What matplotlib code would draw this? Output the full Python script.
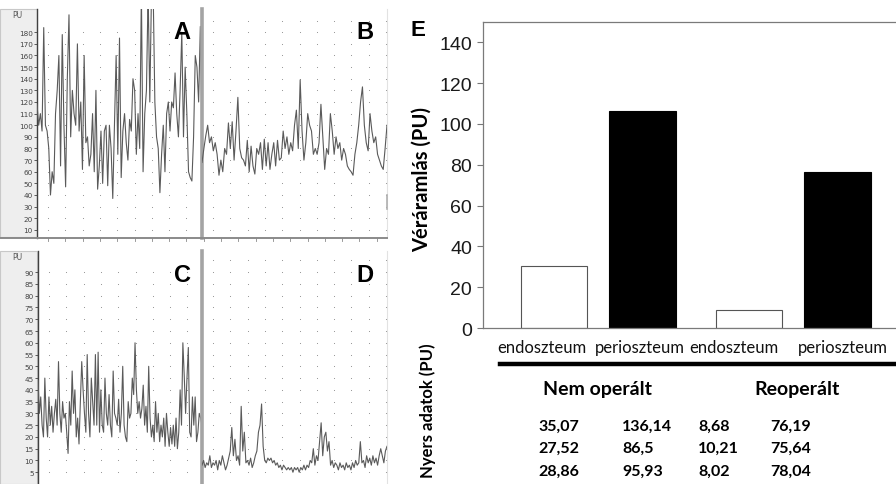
import numpy as np
import matplotlib
matplotlib.use("Agg")
import matplotlib.pyplot as plt
from matplotlib.patches import Rectangle
from matplotlib.lines import Line2D
import matplotlib.transforms as mtransforms

W, H = 896, 485

# laser Doppler traces (PU)
trace_a = [118, 100, 110, 95, 184, 100, 95, 80, 40, 60, 50, 110, 130, 160, 65, 178, 100, 47,
           140, 195, 90, 130, 110, 100, 170, 95, 120, 62, 160, 85, 90, 65, 75, 110, 60, 130,
           45, 65, 95, 50, 95, 100, 48, 100, 80, 37, 100, 160, 75, 175, 55, 95, 110, 85, 70,
           105, 95, 140, 130, 75, 110, 80, 215, 60, 110, 130, 215, 120, 215, 215, 120, 90, 80,
           42, 75, 100, 60, 110, 120, 95, 120, 115, 145, 110, 90, 130, 180, 90, 150, 110, 60,
           55, 52, 90, 160, 150, 120, 185, 100]
trace_b = [68, 80, 91, 100, 85, 90, 78, 85, 75, 57, 70, 60, 80, 75, 102, 80, 103, 70, 95, 124,
           80, 72, 70, 65, 87, 60, 82, 65, 58, 80, 75, 85, 62, 88, 65, 85, 62, 75, 85, 65, 87,
           70, 72, 95, 80, 90, 75, 85, 78, 100, 113, 80, 139, 95, 70, 85, 110, 100, 95, 75, 80,
           75, 85, 118, 90, 62, 80, 75, 110, 95, 75, 90, 80, 85, 70, 80, 75, 65, 62, 60, 57, 75,
           85, 100, 120, 133, 100, 85, 78, 110, 95, 85, 90, 75, 70, 65, 62, 80, 100]
trace_c = [44, 30, 37, 25, 20, 45, 28, 20, 37, 25, 33, 22, 30, 36, 25, 52, 30, 22, 35, 28, 30,
           22, 13, 35, 25, 48, 30, 40, 20, 28, 17, 35, 52, 40, 30, 22, 55, 30, 20, 45, 35, 25,
           55, 25, 56, 22, 40, 25, 22, 45, 30, 25, 38, 25, 20, 48, 30, 28, 25, 36, 22, 30, 50,
           25, 20, 18, 35, 28, 30, 45, 38, 60, 40, 30, 35, 28, 32, 42, 25, 33, 22, 50, 28, 20,
           25, 18, 35, 22, 30, 18, 25, 20, 28, 16, 30, 22, 16, 24, 17, 25, 16, 28, 15, 22, 40,
           25, 60, 46, 30, 45, 58, 22, 20, 37, 25, 37, 18, 22, 30, 28, 25]
trace_d = [8, 10, 7, 9, 8, 12, 7, 9, 8, 10, 6, 10, 8, 12, 9, 6, 8, 11, 14, 24, 12, 19, 10, 12,
           8, 33, 14, 22, 9, 10, 8, 11, 7, 9, 12, 14, 22, 25, 34, 16, 10, 9, 11, 10, 11, 9, 10,
           8, 9, 7, 8, 6, 8, 7, 6, 7, 6, 7, 5, 7, 6, 7, 5, 7, 6, 8, 6, 8, 7, 10, 9, 15, 8, 12,
           10, 18, 26, 12, 20, 22, 14, 18, 8, 10, 7, 9, 8, 6, 9, 7, 8, 6, 9, 7, 8, 6, 9, 7, 10,
           8, 9, 18, 9, 10, 7, 12, 9, 11, 8, 12, 9, 11, 8, 12, 15, 12, 9, 14, 16]

# panel E: raw data per group / tissue
groups = ["Nem operált", "Reoperált"]
tissues = ["endoszteum", "perioszteum"]
raw_nem_endo = [35.07, 27.52, 28.86]
raw_nem_peri = [136.14, 86.5, 95.93]
raw_reo_endo = [8.68, 10.21, 8.02]
raw_reo_peri = [76.19, 75.64, 78.04]

fig = plt.figure(figsize=(W / 100, H / 100), dpi=100)


def px_axes(x0, y0, x1, y1):
    return fig.add_axes([x0 / W, 1 - y1 / H, (x1 - x0) / W, (y1 - y0) / H])


def fx(x):
    return x / W


def fy(y):
    return 1 - y / H


# gray strips behind the trace y axes
for (y0, y1) in [(10, 238), (252, 485)]:
    fig.patches.append(Rectangle((0, fy(y1)), fx(37), fy(y0) - fy(y1), transform=fig.transFigure,
                                 facecolor="#eeeeee", edgecolor="#c8c8c8", lw=0.8, zorder=-10))
    fig.text(fx(12), fy(y0 + 6), "PU", fontsize=5.5, color="#555555", va="center", ha="left")


def trace_panel(ax, data, ylim, yticks, letter, first):
    ax.set_facecolor("none")
    ax.plot(np.arange(len(data)), data, color="#5a5a5a", lw=0.8, zorder=3)
    ax.set_xlim(0, len(data) - 1)
    ax.set_ylim(*ylim)
    # dotted grid: dots at every tick row
    bbox_w = ax.get_position().width * W
    cols = np.arange(11, bbox_w, 17.3) / bbox_w
    rows = np.array(yticks, dtype=float)
    gx, gy = np.meshgrid(cols, rows)
    trans = mtransforms.blended_transform_factory(ax.transAxes, ax.transData)
    ax.scatter(gx.ravel(), gy.ravel(), s=0.6, color="#8c8c8c", transform=trans, zorder=1, lw=0)
    ax.spines["top"].set_visible(False)
    ax.spines["right"].set_color("#e2e2e2")
    ax.spines["bottom"].set_visible(False)
    if first:
        ax.spines["left"].set_color("#404040")
        ax.spines["left"].set_linewidth(1.0)
        ax.spines["right"].set_visible(False)
        ax.set_yticks(yticks)
        ax.set_yticklabels([str(t) for t in yticks])
        ax.tick_params(axis="y", length=2, width=0.6, pad=1, labelsize=5.2,
                       colors="#444444", direction="out")
    else:
        ax.spines["left"].set_color("#a4a4a4")
        ax.spines["left"].set_linewidth(2.6)
        ax.set_yticks([])
    ax.set_xticks([])
    ax.text(0.88, 0.9, letter, transform=ax.transAxes, fontsize=17, fontweight="bold",
            family="Liberation Sans", ha="center", va="center", zorder=5)


ax_a = px_axes(37, 10, 202, 239)
ax_b = px_axes(202, 10, 387, 239)
ax_c = px_axes(38, 252, 202, 485)
ax_d = px_axes(202, 252, 387, 485)
trace_panel(ax_a, trace_a, (3, 200), list(range(10, 190, 10)), "A", True)
trace_panel(ax_b, trace_b, (3, 200), list(range(10, 200, 10)), "B", False)
trace_panel(ax_c, trace_c, (0, 99), list(range(5, 95, 5)), "C", True)
trace_panel(ax_d, trace_d, (0, 99), list(range(5, 100, 5)), "D", False)

# bottom rule of the upper trace panel with small ticks
fig.lines.append(Line2D([0, fx(387)], [fy(238.5), fy(238.5)], transform=fig.transFigure,
                        color="#8a8a8a", lw=1.4))
for xt in np.arange(48, 387, 17.3):
    fig.lines.append(Line2D([fx(xt), fx(xt)], [fy(239), fy(242)], transform=fig.transFigure,
                            color="#8a8a8a", lw=0.6))
fig.lines.append(Line2D([fx(387), fx(387)], [fy(196), fy(210)], transform=fig.transFigure,
                        color="#b0b0b0", lw=1.2))

# ---- panel E ----
raw = [[raw_nem_endo, raw_nem_peri], [raw_reo_endo, raw_reo_peri]]
means = [[np.mean(r) for r in g] for g in raw]

ax_e = px_axes(483, 23, 896, 329)
for gi in range(len(groups)):
    for ti in range(len(tissues)):
        x = gi * 2.2 + ti
        ax_e.bar(x, means[gi][ti], width=0.75,
                 color="white" if ti == 0 else "black",
                 edgecolor="#555555" if ti == 0 else "black", lw=0.8)
ax_e.set_xlim(-0.80, 3.86)
ax_e.set_ylim(0, 150)
ax_e.set_yticks(range(0, 141, 20))
ax_e.set_yticklabels([str(v) for v in range(0, 141, 20)], family="Liberation Sans",
                     fontsize=14, color="#1a1a1a")
ax_e.tick_params(axis="y", length=4, width=0.8, color="#777777", pad=4)
ax_e.set_xticks([])
for s in ["left", "bottom", "top"]:
    ax_e.spines[s].set_color("#7a7a7a")
    ax_e.spines[s].set_linewidth(0.9)
ax_e.spines["right"].set_visible(False)

# tissue names row
name_x = [542, 640, 734, 843]
for i in range(len(groups) * len(tissues)):
    fig.text(fx(name_x[i]), fy(348), tissues[i % 2], fontsize=12,
             family="Lato", color="#111111", ha="center", va="center")

fig.text(fx(418), fy(31), "E", fontsize=16, fontweight="bold", family="Liberation Sans",
         ha="center", va="center")
fig.text(fx(422), fy(180), "Véráramlás (PU)", fontsize=14.5, fontweight="bold", family="Lato",
         rotation=90, ha="center", va="center")
fig.text(fx(428), fy(411), "Nyers adatok (PU)", fontsize=12, fontweight="bold", family="Lato",
         rotation=90, ha="center", va="center")

# thick rule under the tissue names
fig.lines.append(Line2D([fx(500), fx(896)], [fy(365), fy(365)], transform=fig.transFigure,
                        color="black", lw=3.2))

group_x = [597, 797]
for gi, g in enumerate(groups):
    fig.text(fx(group_x[gi]), fy(389), g, fontsize=14, fontweight="bold", family="Lato",
             ha="center", va="center")

col_x = [538, 622, 698, 770]
row_y = [427, 449, 472]
cols = [raw_nem_endo, raw_nem_peri, raw_reo_endo, raw_reo_peri]
for ci, col in enumerate(cols):
    for ri, v in enumerate(col):
        fig.text(fx(col_x[ci]), fy(row_y[ri]), str(v).replace(".", ","), fontsize=11.5,
                 fontweight="bold", family="Lato", ha="left", va="center")

fig.savefig("out.png", dpi=100)
